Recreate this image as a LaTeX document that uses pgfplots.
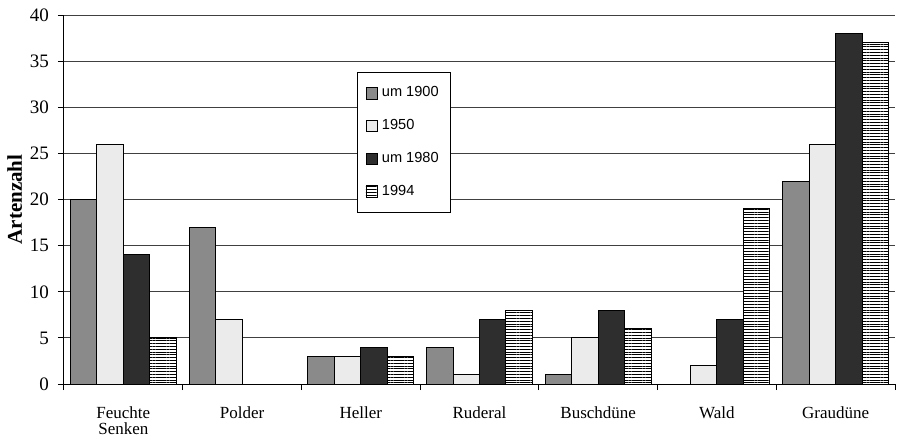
\documentclass[border=0pt]{standalone}
\usepackage{fontspec}
\setmainfont{Liberation Serif}
\newfontfamily\arialfont{Liberation Sans}
\usepackage{pgfplots}
\pgfplotsset{compat=1.18}
\usetikzlibrary{patterns.meta}
\definecolor{cA}{HTML}{8A8A8A}
\definecolor{cB}{HTML}{EBEBEB}
\definecolor{cC}{HTML}{2E2E2E}
\begin{document}
\begin{tikzpicture}
\begin{axis}[
  scale only axis,
  width=415.5pt, height=184.5pt,
  clip=false,
  ybar=0pt,
  bar width=0.223,
  xmin=-0.5, xmax=6.5,
  ymin=0, ymax=40,
  ytick={0,5,...,40},
  xtick={-0.5,0.5,...,6.5},
  xticklabels={Feuchte\\Senken,Polder,Heller,Ruderal,Buschdüne,Wald,Graudüne},
  x tick label as interval,
  axis x line*=bottom,
  axis y line*=left,
  ymajorgrids,
  grid style={black!75, line width=0.45pt},
  axis line style={black, line width=0.5pt},
  tick style={black, line width=0.5pt},
  xtick align=outside,
  ytick align=outside,
  major tick length=3pt,
  /pgf/number format/assume math mode=true,
  yticklabel style={font=\fontsize{9.5}{11}\selectfont, xshift=-1pt},
  xticklabel style={font=\fontsize{8.5}{8}\selectfont, align=center, yshift=-5pt},
  ylabel={\textbf{Artenzahl}},
  ylabel style={font=\fontsize{10.5}{12}\selectfont, yshift=-3pt},
  legend style={
    at={(rel axis cs:0.3526,0.8455)}, anchor=north west,
    draw=black, line width=0.5pt,
    font=\arialfont\fontsize{7.3}{8}\selectfont,
    row sep=5.8pt, inner xsep=4pt, inner ysep=5pt,
    cells={anchor=west},
  },
  legend image code/.code={\draw[#1, line width=0.4pt] (0pt,-2.9pt) rectangle (5.8pt,2.9pt);},
]
\addplot[draw=black, fill=cA, line width=0.5pt] coordinates {
  (0,20) (1,17) (2,3) (3,4) (4,1) (6,22)};
\addplot[draw=black, fill=cB, line width=0.5pt] coordinates {
  (0,26) (1,7) (2,3) (3,1) (4,5) (5,2) (6,26)};
\addplot[draw=black, fill=cC, line width=0.5pt] coordinates {
  (0,14) (2,4) (3,7) (4,8) (5,7) (6,38)};
\addplot[draw=black, fill=white, line width=0.5pt, postaction={pattern={Lines[angle=0,distance=1.4pt,line width=0.55pt]}}] coordinates {
  (0,5) (2,3) (3,8) (4,6) (5,19) (6,37)};
\legend{um 1900,1950,um 1980,1994}
\path (rel axis cs:-0.077,-0.1355) rectangle (rel axis cs:1.0072,1.0407);
\end{axis}
\end{tikzpicture}
\end{document}
